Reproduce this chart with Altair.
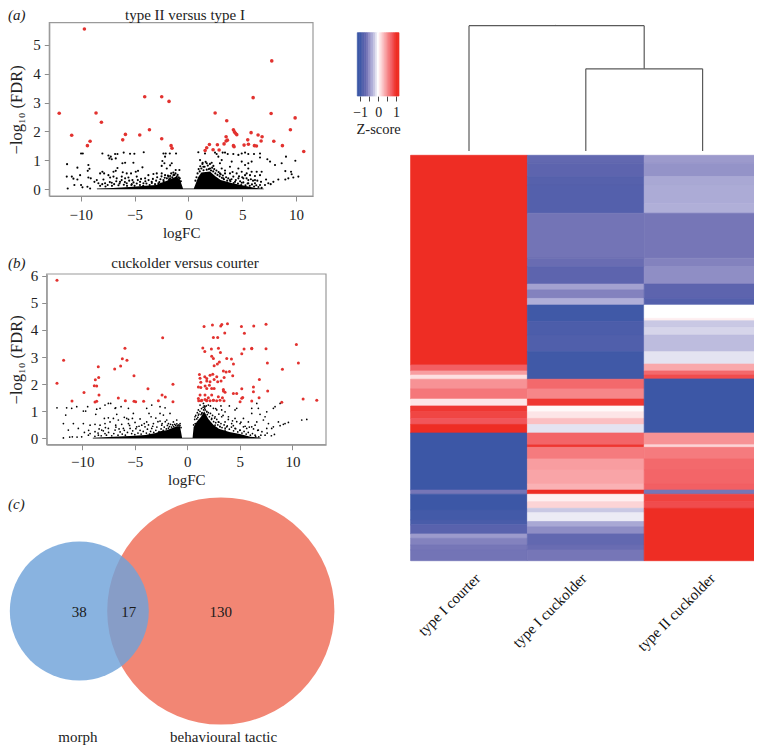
import altair as alt
import pandas as pd

SERIF = "Liberation Serif"
W, H = 746, 737

# ---------- panel (a) ----------
a_red_x = [-9.66,-12.0,-10.84,-9.38,-9.13,-8.58,-8.08,-6.10,-5.85,-4.52,-4.06,-3.62,-2.48,-2.48,-1.80,-1.61,-1.52,
           1.55,1.70,1.95,2.29,2.48,2.69,2.85,3.31,3.50,3.56,3.50,3.62,4.18,4.24,4.18,4.27,4.37,4.49,5.17,5.51,5.57,
           5.82,6.01,6.13,6.32,6.47,6.75,6.84,7.68,7.74,7.93,8.73,9.47,9.91,10.71]
a_red_y = [5.54,2.63,1.87,1.51,1.66,2.64,2.32,1.71,1.90,1.88,3.20,2.06,3.20,1.75,3.04,1.51,1.42,
           1.34,1.44,1.55,1.37,2.64,1.54,1.36,1.57,1.67,2.37,1.82,1.70,1.51,1.47,2.06,1.99,1.94,1.89,1.53,1.71,1.56,
           1.96,3.17,1.51,1.50,1.88,1.67,1.82,2.62,4.44,1.66,1.51,2.06,2.47,1.31]
a_blk_x = [-9.97,-9.81,-7.99,-7.43,-7.21,-7.34,-7.12,-6.81,-6.59,-6.75,-6.01,-5.42,-5.02,-4.15,-2.32,-2.11,-1.73,-1.15,
           -2.17,-2.42,-2.23,-1.55,-11.27,-10.31,-9.29,-9.19,-9.35,-6.59,-6.13,-5.88,-5.11,-4.68,-4.27,-2.94,-2.48,-2.01,
           -1.70,-1.18,-0.84,-11.30,-10.83,-10.68,-10.06,-10.31,-10.59,-11.21,-9.97,-9.84,-9.29,-9.07,-9.38,-9.13,-8.73,
           -8.51,-8.20,-7.99,-7.83,-7.43,-6.96,-6.75,-6.10,-5.73,-5.33,-4.89,-8.36,-7.89,-7.27,-6.96,-6.66,-6.19,-5.88,
           -5.57,-5.20,-4.80,-4.49,-4.02,-3.72,-3.25,-2.48,-2.17,-1.86,-1.39,-1.08,-7.74,-7.12,-6.35,-5.73,-5.26,-4.18,
           -3.41,-2.79,-2.32,-1.70,-1.24,-0.78,
           0.92,1.54,2.47,2.62,3.18,3.40,3.65,4.17,4.64,4.95,5.26,5.56,6.09,6.65,6.65,7.33,7.58,8.04,8.66,9.06,9.93,1.08,
           1.32,1.70,2.16,2.78,3.09,2.93,4.02,4.95,5.56,5.87,3.86,3.09,2.32,2.01,1.39,4.64,5.26,5.56,4.48,4.95,5.41,5.87,
           6.34,6.80,6.65,6.18,5.72,5.26,9.00,9.53,9.59,7.89,8.35,9.00,9.28,9.74,10.21,7.21,7.42,7.11,6.74,6.18,5.56,5.10,
           4.64,4.17,3.86,3.40,2.93,3.24,3.86,4.33,4.95,5.56,6.18,6.65,7.64,
           -8.2,-8.0,-7.7,-7.5,-7.3,-7.1,-6.9,-6.7,-6.5,-6.4,-6.2,-6.0,-5.9,-5.7,-5.5,-5.3,-5.1,-5.0,-4.8,-4.7,-4.5,-4.4,-4.2,
           -4.0,-3.9,-3.7,-3.6,-3.4,-3.3,-3.1,-3.0,-2.9,-2.7,-2.6,-2.5,-2.3,-2.2,-2.0,-1.9,-1.7,-1.6,-1.5,-1.4,-1.3,-1.2,-1.0,
           -0.9,-0.8,-0.7,-2.8,-1.8,
           0.65,0.75,0.85,0.95,1.05,1.1,1.2,1.3,1.4,1.5,1.6,1.7,1.8,1.9,2.0,2.1,2.2,2.3,2.4,2.5,2.6,2.7,2.8,2.9,3.0,3.1,3.2,3.3,
           3.5,3.6,3.7,3.9,4.0,4.2,4.4,4.6,4.8,4.9,5.1,5.3,5.5,5.7,5.9,6.1,6.3,6.5,6.8,3.4,4.1,4.7,5.0,5.4,5.8,6.0,6.4]
a_blk_y = [1.24,1.24,1.24,1.17,1.13,1.07,1.04,1.22,1.22,1.07,1.27,1.23,1.23,1.28,1.24,1.24,1.24,1.24,
           1.13,0.98,0.90,0.90,0.87,0.75,0.84,0.71,0.64,0.74,0.90,0.92,0.92,0.64,0.76,0.55,0.81,0.72,
           0.83,0.67,0.67,0.44,0.44,0.37,0.49,0.34,0.15,0.03,0.15,0.07,0.41,0.38,0.09,0.03,0.26,
           0.32,0.55,0.61,0.55,0.49,0.61,0.64,0.59,0.55,0.55,0.61,0.21,0.34,0.41,0.44,0.38,0.44,0.38,
           0.41,0.32,0.44,0.26,0.38,0.49,0.53,0.55,0.49,0.44,0.49,0.44,0.21,0.23,0.26,0.21,0.18,0.21,
           0.26,0.21,0.32,0.38,0.32,0.26,
           1.28,1.24,1.27,1.22,1.27,1.27,1.22,1.22,1.19,1.24,1.27,1.22,1.22,1.24,1.10,1.04,0.96,0.84,0.90,1.13,0.99,1.01,
           0.92,0.90,0.92,1.13,1.01,0.90,0.96,0.96,0.90,0.96,0.78,0.72,0.81,0.72,0.78,0.72,0.84,0.72,0.55,0.61,0.55,0.61,
           0.61,0.61,0.49,0.46,0.49,0.49,0.63,0.61,0.52,0.26,0.34,0.34,0.38,0.41,0.44,0.34,0.21,0.15,0.26,0.32,0.32,0.38,
           0.38,0.44,0.55,0.55,0.55,0.38,0.32,0.26,0.23,0.21,0.21,0.15,0.18,
           .12,.18,.10,.15,.25,.12,.18,.28,.14,.20,.32,.16,.25,.12,.30,.15,.24,.12,.20,.32,.15,.36,.12,
           .28,.20,.32,.15,.22,.36,.18,.30,.42,.25,.35,.45,.28,.40,.38,.48,.46,.55,.42,.58,.50,.55,.50,
           .42,.38,.28,.12,.35,
           .3,.42,.55,.7,.62,.8,.72,.88,.66,.78,.95,.68,.82,.7,.88,.65,.75,.62,.7,.55,.65,.5,.6,.45,.52,.4,.48,.35,
           .42,.3,.38,.28,.35,.22,.32,.2,.28,.15,.24,.14,.2,.12,.17,.1,.14,.08,.05,.65,.6,.45,.42,.38,.35,.3,.3]
a_mass_x = [-8.5,-7,-5.5,-4,-3,-2.6,-2,-1.5,-1.1,-0.8,-0.5,0.5,0.7,0.9,1.2,2,2.5,3,4,5,6,7]
a_mass_y = [0.03,0.05,0.08,0.12,0.15,0.22,0.30,0.38,0.44,0.35,0.03,0.03,0.22,0.42,0.58,0.62,0.45,0.32,0.22,0.14,0.06,0.02]

# ---------- panel (b) ----------
b_red_x = [-12.41,-11.78,-12.41,-10.98,-9.84,-8.76,-8.44,-8.48,-8.86,-8.63,-8.41,-8.79,-8.63,-6.92,-6.35,-6.19,-5.94,
           -5.75,-6.57,-5.90,-5.08,-5.08,-4.92,-4.16,-3.75,-2.76,-2.41,-2.10,-2.35,-1.37,-1.37,
           1.59,2.39,3.18,3.28,3.82,3.56,5.15,6.32,5.43,2.48,2.89,1.47,1.66,2.29,2.96,3.15,5.40,6.13,5.18,2.32,2.48,3.75,
           4.20,3.05,2.86,2.55,4.39,3.43,3.69,4.01,4.32,1.15,1.21,1.66,1.85,2.16,2.42,2.80,3.50,1.28,1.85,2.16,2.55,2.89,
           3.21,1.05,1.28,1.69,1.85,2.10,2.32,2.55,3.43,5.18,6.29,6.86,
           1.21,1.05,1.37,1.68,2.00,2.32,2.48,1.84,2.95,3.43,3.59,3.34,4.38,4.70,5.18,5.02,6.13,6.29,6.83,7.65,8.99,11.02,
           12.32,1.08,1.33,1.68,1.84,2.16,2.48,2.79,3.11,3.49,5.27,10.38,10.57,9.05,7.49,7.49,7.62,6.13]
b_red_y = [5.83,2.88,2.03,1.38,1.69,2.16,2.25,2.64,1.94,1.93,1.60,1.34,1.37,2.56,2.67,2.94,3.32,
           2.88,1.49,1.39,2.31,1.37,1.35,1.37,1.83,1.39,1.60,1.53,3.71,2.00,1.35,
           4.13,4.18,4.14,4.20,4.23,3.89,4.13,4.14,3.88,3.72,3.72,3.33,3.20,3.30,3.32,3.17,3.30,3.32,3.12,3.03,2.95,2.95,
           2.93,2.82,2.74,2.68,2.74,2.49,2.45,2.47,2.31,2.36,2.22,2.27,2.21,2.33,2.37,2.27,2.25,2.07,2.12,2.09,2.17,2.09,
           2.12,1.90,1.88,1.93,1.84,1.96,1.84,1.84,1.80,1.83,1.90,2.17,
           1.60,1.47,1.41,1.60,1.50,1.60,1.41,1.41,1.54,1.75,1.70,1.50,1.66,1.66,1.48,1.35,1.38,1.72,1.50,1.75,1.33,1.45,
           1.41,1.39,1.39,1.44,1.39,1.39,1.41,1.39,1.41,1.39,1.51,3.46,2.78,2.55,3.31,4.21,2.78,3.31]
b_blk_x = [-12.41,-11.49,-11.01,-10.53,-11.58,-9.90,-9.49,-9.68,-8.31,-8.63,-7.84,-7.52,-7.30,-6.82,-6.31,-5.61,-5.14,-3.87,
           -3.39,-2.60,-2.12,-8.72,-7.90,-7.52,-6.88,-6.72,-7.04,-6.57,-5.77,-5.23,-3.65,-3.45,-2.60,-2.28,-1.65,-1.01,
           -11.80,-10.85,-10.38,-11.33,-11.80,-10.95,-9.90,-9.26,-8.79,-8.31,-7.84,-7.36,-6.82,-6.25,-5.61,-4.98,-4.34,
           -3.87,-3.23,-2.60,-1.96,-1.33,-0.69,-10.06,-9.42,-8.79,-8.15,-7.52,-6.88,-6.09,-5.45,-4.82,-4.03,-3.39,-2.44,
           -1.80,-9.26,-8.47,-7.84,
           0.73,1.05,1.21,1.53,1.68,2.00,1.05,1.37,1.84,2.48,2.80,3.27,3.59,4.54,4.70,6.13,6.76,6.61,7.56,8.19,8.35,8.83,
           7.40,6.92,6.13,5.34,4.54,3.91,3.27,2.64,2.32,2.95,3.59,4.22,5.02,5.81,6.61,7.24,7.72,8.19,7.56,8.67,9.30,9.62,
           10.89,11.37,7.40,8.29,6.76,6.45,6.13,5.34,4.54,3.75,3.11,2.64,8.03,8.83,9.14,6.45,5.65,5.02,4.38,2.80,3.59,
           -8.8,-8.5,-8.2,-8.0,-7.7,-7.5,-7.2,-7.0,-6.8,-6.6,-6.4,-6.2,-6.0,-5.9,-5.7,-5.5,-5.3,-5.2,-5.0,-4.9,-4.7,-4.5,-4.4,
           -4.2,-4.1,-3.9,-3.8,-3.6,-3.5,-3.3,-3.2,-3.0,-2.9,-2.8,-2.7,-2.5,-2.4,-2.3,-2.2,-2.1,-2.0,-1.9,-1.8,-1.7,-1.6,-1.5,
           -1.4,-1.3,-1.2,-1.1,-1.0,-0.9,-0.8,-0.7,-0.6,-6.5,-7.8,-8.4,-4.6,-3.7,-9.4,-9.8,-10.5,-11.2,-5.6,-4.5,-3.0,-6.0,
           .6,.7,.75,.8,.9,.95,1.0,1.1,1.15,1.2,1.3,1.35,1.4,1.5,1.55,1.6,1.65,1.7,1.8,1.85,1.9,2.0,2.1,2.2,2.3,2.4,2.5,2.6,2.7,
           2.8,2.9,3.0,3.1,3.2,3.3,3.5,3.6,3.8,4.0,4.2,4.4,4.6,4.8,5.0,5.2,5.4,5.6,5.8,6.0,6.2,6.5,6.8,7.0,3.0,3.4,3.9,4.3,4.7,
           5.1,5.5,5.9,6.3,6.7,7.1,7.6,8.0,2.2,2.7,3.2,4.0]
b_blk_y = [1.13,1.13,1.11,1.17,0.86,1.01,1.17,1.01,1.11,1.08,1.23,1.29,1.29,1.13,1.17,1.11,0.92,1.11,
           1.23,1.17,1.13,0.89,0.74,0.76,1.11,0.89,0.74,0.68,0.74,0.74,0.92,0.80,0.92,0.86,0.92,0.68,
           0.55,0.55,0.37,0.31,0.02,0.06,0.55,0.49,0.52,0.49,0.55,0.61,0.49,0.52,0.55,0.59,0.49,
           0.61,0.55,0.64,0.68,0.61,0.55,0.06,0.12,0.25,0.31,0.37,0.31,0.37,0.37,0.43,0.43,0.37,0.49,
           0.55,0.18,0.12,0.18,
           0.80,1.05,1.23,1.29,1.17,1.23,0.86,0.92,0.98,1.11,1.05,1.05,0.98,1.05,1.11,1.11,1.11,1.29,0.98,1.11,1.17,1.29,
           0.80,0.89,0.92,0.74,0.74,0.80,0.80,0.80,0.74,0.61,0.61,0.55,0.55,0.61,0.61,0.68,0.55,0.43,0.37,0.61,0.55,0.59,
           0.68,0.70,0.12,0.15,0.31,0.12,0.43,0.43,0.37,0.43,0.43,0.49,0.37,0.47,0.52,0.49,0.37,0.31,0.47,0.37,0.31,
           .08,.2,.1,.28,.12,.22,.1,.18,.42,.12,.24,.16,.3,.12,.22,.48,.18,.28,.14,.36,.2,.3,.16,
           .26,.55,.2,.34,.16,.26,.45,.22,.3,.42,.62,.25,.35,.55,.3,.42,.62,.35,.48,.38,.44,.52,.42,
           .5,.44,.52,.48,.54,.48,.5,.47,.4,.35,.4,.35,.45,.5,.3,.22,.05,.05,.7,.72,.75,.78,
           .5,.7,.55,.85,.72,.95,.78,.9,.68,1.0,.88,1.1,.95,1.15,1.05,1.2,1.12,1.05,1.2,1.0,.88,.95,.8,.92,.7,.85,.62,.75,.58,
           .7,.5,.6,.45,.55,.4,.5,.38,.46,.34,.42,.28,.36,.24,.3,.2,.26,.16,.22,.12,.18,.08,.06,.12,.9,.85,.7,.65,.62,
           .6,.45,.42,.35,.3,.25,.2,.1,1.2,1.1,1.2,1.2]
b_mass_x = [-9,-7,-5,-4,-3,-2.6,-2,-1.5,-1,-0.7,-0.5,0.5,0.6,0.9,1.3,1.6,2,2.5,3,4,5,6,7]
b_mass_y = [0.03,0.06,0.10,0.13,0.20,0.27,0.30,0.38,0.45,0.45,0.03,0.03,0.42,0.62,0.80,1.00,0.72,0.50,0.36,0.24,0.16,0.06,0.03]

# ---------- panel (c) ----------
venn_names = ["behavioural tactic", "morph"]
venn_centres = [1.0, 0.0]
venn_sizes = [147, 55]
venn_counts = ["38", "17", "130"]
venn_count_pos = [0.0, 0.35, 1.0]
venn_label_pos = [-0.01, 1.02]
venn_labels = ["morph", "behavioural tactic"]

# ---------- heat map (z-scores, rows from the top) ----------
col_names = ["type I courter", "type I cuckolder", "type II cuckolder"]
col1_edges = [0,76,78.2,79.7,81.2,84.7,88.4,90.9,93,95.4,97.6,100.7,121.4,122.9,128.6,132.2,134,137.3,138.9,141.3,143.1,147]
col1_z = [1,0.75,0.45,0.15,0.5,0.62,0.12,0.95,0.88,0.8,1,-1,-0.6,-1,-0.95,-0.9,-0.78,-0.45,-0.55,-0.6,-0.62]
col2_edges = [0,2.9,7.7,10.8,21,37.3,40.4,46.7,48.8,51.9,54.3,60.3,65.2,71.2,81.2,84.7,88.4,90.9,93,95.4,97.6,100.7,105,
              105.9,110.1,114.1,119.2,121.4,122.9,125.6,128,129.6,132.8,134.7,137.3,141.3,143.1,147]
col2_z = [-0.72,-0.75,-0.8,-0.82,-0.62,-0.68,-0.75,-0.4,-0.55,-0.3,-0.97,-0.88,-0.85,-0.97,0.7,0.55,0.95,0.03,0.12,0.3,-0.1,
          0.72,0.95,0.6,0.45,0.42,0.36,1,0.07,0.2,-0.2,-0.07,-0.35,-0.5,-0.72,-0.68,-0.6]
col3_edges = [0,2.9,7.7,10.8,17.4,21,37.3,40.4,46.7,51.9,54.3,59.1,60,62.4,65.2,71.2,75.7,78.2,79.7,81.1,100.7,105,105.9,
              110.1,114.1,119.2,121.4,122.9,125.6,128,147]
col3_z = [-0.45,-0.48,-0.35,-0.33,-0.3,-0.6,-0.55,-0.5,-0.75,-0.82,0,0.08,-0.2,-0.15,-0.25,-0.1,0.4,0.7,0.85,-1,0.5,0.2,
          0.6,0.7,0.72,0.75,-0.6,0.9,0.85,1]

z_stops = [-1,-0.75,-0.6,-0.45,-0.3,-0.15,0,0.3,0.6,0.8,1]
z_colors = ["#3c57a6","#5d64ae","#7676b7","#9c9acc","#b0afd8","#d6d5ea","#ffffff","#fbbfc2","#f57b7e","#f1565a","#ee2d24"]
ramp_z = [-1.16,-1.05,-0.95,-0.85,-0.75,-0.65,-0.55,-0.45,-0.35,-0.25,-0.15,-0.05,0.05,0.15,0.25,0.35,0.45,0.55,0.65,0.75,0.85,0.95,1.05,1.16]

# ---------- dendrogram: segments in column position and merge height ----------
den_x0 = [0.5,0.5,2.0,1.5,1.5,2.5,1.24]
den_x1 = [2.0,0.5,2.0,2.5,1.5,2.5,1.24]
den_y0 = [1.25,1.25,1.25,0.82,0.82,0.82,1.25]
den_y1 = [1.25,0.0,0.82,0.82,0.0,0.0,1.258]


def axis_common():
    return dict(grid=False, labelFont=SERIF, titleFont=SERIF, labelFontSize=15, titleFontSize=15,
                titleFontWeight="normal", labelColor="#222222", titleColor="#222222",
                domainColor="#8c8c8c", tickColor="#8c8c8c", tickSize=5)


def volcano(red_x, red_y, blk_x, blk_y, mass_x, mass_y, xdom, xpx, ydom, ypx, xticks, yticks,
            frame_bottom, frame_left, lab_pad, title_pad, ylab_pad, ytitle_pad, size_blk, size_red):
    sx = alt.Scale(domain=xdom, range=xpx, nice=False, zero=False)
    sy = alt.Scale(domain=ydom, range=ypx, nice=False, zero=False)
    ax = alt.Axis(orient="bottom", offset=frame_bottom - H, values=xticks, title="logFC",
                  labelPadding=lab_pad, titlePadding=title_pad, **axis_common())
    ay = alt.Axis(orient="left", offset=-frame_left, values=yticks, title="\u2212log\u2081\u2080 (FDR)",
                  labelAngle=0, labelPadding=ylab_pad, titlePadding=ytitle_pad,
                  **{**axis_common(), "titleFontSize": 16.5})
    frame = pd.DataFrame({"x0": [xdom[0]], "x1": [xdom[1]], "y0": [ydom[0]], "y1": [ydom[1]]})
    f = alt.Chart(frame).mark_rect(fillOpacity=0, stroke="#9a9a9a", strokeWidth=1.2).encode(
        x=alt.X("x0:Q", scale=sx, axis=ax), x2="x1:Q",
        y=alt.Y("y0:Q", scale=sy, axis=ay), y2="y1:Q")
    m = alt.Chart(pd.DataFrame({"x": mass_x, "y": mass_y})).mark_area(color="#000000").encode(
        x=alt.X("x:Q", scale=sx, axis=None), y=alt.Y("y:Q", scale=sy, axis=None))
    b = alt.Chart(pd.DataFrame({"x": blk_x, "y": blk_y})).mark_circle(size=size_blk, color="#000000", opacity=1).encode(
        x=alt.X("x:Q", scale=sx, axis=None), y=alt.Y("y:Q", scale=sy, axis=None))
    r = alt.Chart(pd.DataFrame({"x": red_x, "y": red_y})).mark_circle(size=size_red, color="#e2322f", opacity=1).encode(
        x=alt.X("x:Q", scale=sx, axis=None), y=alt.Y("y:Q", scale=sy, axis=None))
    return [f, m, b, r]


def note(label, px, py, size=15, **kw):
    """A line of text, anchored at picture position (px, py)."""
    return alt.Chart(pd.DataFrame({"t": [label]})).mark_text(
        x=px - 8, y=py - 8, font=SERIF, fontSize=size, color="#222222", **kw).encode(text="t:N")


layers = []

layers += volcano(a_red_x, a_red_y, a_blk_x, a_blk_y, a_mass_x, a_mass_y,
                  [-12.92, 11.57], [41.3, 305], [-0.23, 5.76], [188, 14.7],
                  [-10, -5, 0, 5, 10], [0, 1, 2, 3, 4, 5], 188, 41.3, 6, 3, 4, 8, 4.5, 13)
layers += volcano(b_red_x, b_red_y, b_blk_x, b_blk_y, b_mass_x, b_mass_y,
                  [-13.39, 13.2], [38.7, 318], [-0.23, 6.06], [436.7, 266],
                  [-10, -5, 0, 5, 10], [0, 1, 2, 3, 4, 5, 6], 436.7, 38.7, 5, 3, 4, 6, 3, 9)

layers += [note("type II versus type I", 185, 15), note("cuckolder versus courter", 185, 263),
           note("(a)", 8, 15, fontStyle="italic", align="left"), note("(b)", 8, 263, fontStyle="italic", align="left"),
           note("(c)", 8, 504, fontStyle="italic", align="left")]

# Venn
venn_x = alt.Scale(domain=[0, 1], range=[71.3, 212.8], nice=False, zero=False)
venn_size = alt.Scale(domain=[0, 147], range=[0, 51620], nice=False, zero=True)
venn_df = pd.DataFrame({"set": venn_names, "c": venn_centres, "n": venn_sizes})
layers.append(alt.Chart(venn_df).transform_filter("datum.n > 100").mark_circle(color="#f28674", opacity=1).encode(
    x=alt.X("c:Q", scale=venn_x, axis=None), y=alt.value(603), size=alt.Size("n:Q", scale=venn_size, legend=None)))
layers.append(alt.Chart(venn_df).transform_filter("datum.n < 100").mark_circle(color="#6fa2d9", opacity=0.82).encode(
    x=alt.X("c:Q", scale=venn_x, axis=None), y=alt.value(603), size=alt.Size("n:Q", scale=venn_size, legend=None)))
layers.append(alt.Chart(pd.DataFrame({"t": venn_counts, "c": venn_count_pos})).mark_text(
    font=SERIF, fontSize=15, color="#1a1a1a").encode(
    x=alt.X("c:Q", scale=venn_x, axis=None), y=alt.value(604), text="t:N"))
layers.append(alt.Chart(pd.DataFrame({"t": venn_labels, "c": venn_label_pos})).mark_text(
    font=SERIF, fontSize=15, color="#222222").encode(
    x=alt.X("c:Q", scale=venn_x, axis=None), y=alt.value(729), text="t:N"))

# Heat map
zscale = alt.Scale(domain=z_stops, range=z_colors, interpolate="rgb", clamp=True)
cx = alt.Scale(domain=[0, 3], range=[402.6, 753], nice=False, zero=False)
ry = alt.Scale(domain=[0, 147], range=[147.3, 552.7], nice=False, zero=False)
rows = []
for c, (edges, zs) in enumerate([(col1_edges, col1_z), (col2_edges, col2_z), (col3_edges, col3_z)]):
    for i, z in enumerate(zs):
        rows.append({"c0": c, "c1": c + 1, "r0": edges[i], "r1": edges[i + 1], "z": z})
layers.append(alt.Chart(pd.DataFrame(rows)).mark_rect(strokeWidth=0.7).encode(
    x=alt.X("c0:Q", scale=cx, axis=None), x2="c1:Q",
    y=alt.Y("r0:Q", scale=ry, axis=None), y2="r1:Q",
    color=alt.Color("z:Q", scale=zscale, legend=None),
    stroke=alt.Stroke("z:Q", scale=zscale, legend=None)))
lab_df = pd.DataFrame({"t": col_names, "c": [0.575, 1.485, 2.585]})
layers.append(alt.Chart(lab_df).mark_text(font=SERIF, fontSize=15, color="#111111", angle=315, align="right",
                                          baseline="middle").encode(
    x=alt.X("c:Q", scale=cx, axis=None), y=alt.value(568), text="t:N"))

# Dendrogram
dy = alt.Scale(domain=[0, 1.25], range=[143, 17.7], nice=False, zero=False)
layers.append(alt.Chart(pd.DataFrame({"x0": den_x0, "x1": den_x1, "y0": den_y0, "y1": den_y1})).mark_rule(
    color="#5a5a5a", strokeWidth=1.2).encode(
    x=alt.X("x0:Q", scale=cx, axis=None), x2="x1:Q",
    y=alt.Y("y0:Q", scale=dy, axis=None), y2="y1:Q"))

# Colour key
kx = alt.Scale(domain=[-1.16, 1.16], range=[349.3, 391], nice=False, zero=False)
ramp_df = pd.DataFrame({"z0": ramp_z[:-1], "z1": ramp_z[1:]})
ramp_df["z"] = (ramp_df.z0 + ramp_df.z1) / 2
key_axis = alt.Axis(orient="bottom", offset=88 - H, values=[-1, -0.5, 0, 0.5, 1],
                    labelExpr="datum.value == -1 ? '\u22121' : datum.value == 0 ? '0' : datum.value == 1 ? '1' : ''",
                    title="Z-score", labelPadding=4, titlePadding=3, labelOverlap=False,
                    **{**axis_common(), "labelFontSize": 14, "titleFontSize": 14.5, "tickColor": "#444444", "domainOpacity": 0})
layers.append(alt.Chart(ramp_df).mark_rect(strokeWidth=0.7).encode(
    x=alt.X("z0:Q", scale=kx, axis=key_axis), x2="z1:Q",
    y=alt.value(24.7), y2=alt.value(88),
    color=alt.Color("z:Q", scale=zscale, legend=None),
    stroke=alt.Stroke("z:Q", scale=zscale, legend=None)))

chart = alt.layer(*layers).resolve_scale(x="independent", y="independent", color="independent", size="independent",
                                         stroke="independent").properties(
    width=W, height=H, padding=0, autosize=alt.AutoSizeParams(type="none")
).configure_view(stroke=None)

chart.save("out.html", embed_options={"renderer": "svg", "actions": False})
